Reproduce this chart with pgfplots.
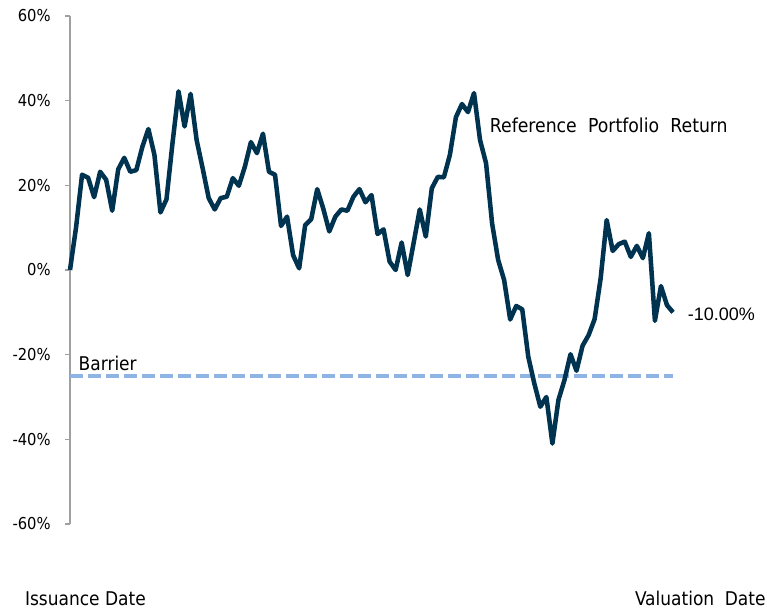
\documentclass[border=0pt]{standalone}
\usepackage{fontspec}
\setmainfont{DejaVu Sans Condensed}
\newfontfamily\arialfont{Liberation Sans}
\usepackage{pgfplots}
\pgfplotsset{compat=1.18}
\definecolor{navy}{RGB}{0,51,80}
\definecolor{barrierblue}{RGB}{141,180,226}
\definecolor{axisgray}{RGB}{160,160,160}

\pgfplotstableread{
i v
0 0
1 10
2 22.5
3 21.8
4 17.2
5 23.2
6 21.3
7 14
8 23.8
9 26.5
10 23.2
11 23.6
12 29.1
13 33.3
14 27.2
15 13.6
16 16.7
17 30
18 42.2
19 33.9
20 41.6
21 30.7
22 24
23 17
24 14.3
25 17
26 17.3
27 21.7
28 19.9
29 24.4
30 30.2
31 27.6
32 32.2
33 23.2
34 22.5
35 10.4
36 12.6
37 3.5
38 0.4
39 10.6
40 12
41 19.1
42 14.5
43 9.1
44 12.6
45 14.3
46 14
47 17.3
48 19.1
49 16
50 17.7
51 8.5
52 9.6
53 2
54 0
55 6.5
56 -1.2
57 6.5
58 14.3
59 7.9
60 19.3
61 22
62 21.9
63 27.2
64 36.1
65 39.2
66 37.3
67 41.8
68 30.7
69 25.2
70 11
71 2.4
72 -2.4
73 -11.7
74 -8.5
75 -9.3
76 -20.5
77 -26.8
78 -32.3
79 -30
80 -41
81 -30.7
82 -26
83 -19.9
84 -23.8
85 -17.9
86 -15.4
87 -11.6
88 -2
89 11.8
90 4.5
91 6.1
92 6.7
93 3.1
94 5.7
95 2.8
96 8.7
97 -12
98 -3.8
99 -8.3
100 -10
}\portfolio

\begin{document}
\begin{tikzpicture}
\begin{axis}[
  scale only axis,
  width=452.25pt, height=381pt,
  xmin=0, xmax=100, ymin=-60, ymax=60,
  clip=false,
  axis x line=none,
  axis y line=left,
  axis line style={axisgray, line width=1.1pt, -},
  ytick={-60,-40,...,60},
  yticklabels={-60\%,-40\%,-20\%,0\%,20\%,40\%,60\%},
  ytick align=outside,
  major tick length=3.5pt,
  every tick/.style={axisgray, line width=1.1pt},
  yticklabel style={font=\fontsize{12.3}{14}\selectfont, xshift=-7.5pt},
]
\addplot[barrierblue, line width=3.4pt, dash pattern=on 9.5pt off 4pt] coordinates {(0,-25) (100,-25)};
\addplot[navy, line width=3.4pt, line join=round] table[x=i, y=v] {\portfolio};

\node[anchor=base west, font=\fontsize{14.2}{16}\selectfont, inner sep=0pt] at (axis cs:1.4,-25) [yshift=4pt] {Barrier};
\node[anchor=base west, font=\fontsize{14.4}{16}\selectfont, inner sep=0pt] at (axis cs:69.6,32.4) {Reference\hspace{8.5pt}Portfolio\hspace{8.5pt}Return};
\node[anchor=west, font=\arialfont\fontsize{13.5}{16}\selectfont, inner sep=0pt] at (axis cs:100,-10.4) [xshift=11pt] {-10.00\%};
\node[anchor=base west, font=\fontsize{14.2}{16}\selectfont, inner sep=0pt] at (axis cs:-7.5,-79.2) {Issuance Date};
\node[anchor=base east, font=\fontsize{14.2}{16}\selectfont, inner sep=0pt] at (axis cs:115.4,-79.2) {Valuation\hspace{8pt}Date};
\end{axis}
\path[use as bounding box] ([xshift=-52.5pt,yshift=-65.25pt]current axis.south west) rectangle ([xshift=70.5pt,yshift=12pt]current axis.north east);
\end{tikzpicture}
\end{document}
